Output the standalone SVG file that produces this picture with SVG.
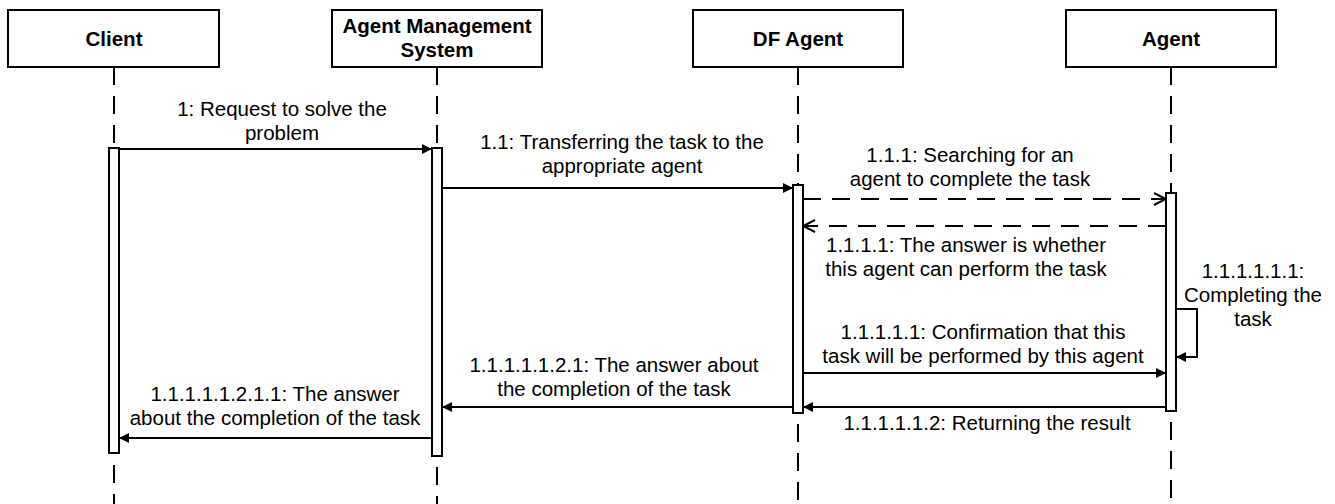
<svg xmlns="http://www.w3.org/2000/svg" width="1335" height="504" viewBox="0 0 1335 504">
  <style>
    .box { fill: #fff; stroke: #000; stroke-width: 2; }
    .title { font-family: "Liberation Sans", Arial, sans-serif; font-size: 20.5px; font-weight: bold; text-anchor: middle; fill: #000; }
    .label { font-family: "Liberation Sans", Arial, sans-serif; font-size: 20.5px; text-anchor: middle; fill: #000; }
    .life { stroke: #000; stroke-width: 2; stroke-dasharray: 18 11; fill: none; }
    .bar { fill: #fff; stroke: #000; stroke-width: 2; }
    .msg { stroke: #000; stroke-width: 2; fill: none; marker-end: url(#solid); }
    .reply { stroke: #000; stroke-width: 2; fill: none; stroke-dasharray: 18 11; marker-end: url(#open); }
  </style>
  <defs>
    <marker id="solid" viewBox="0 0 10 10" refX="10" refY="5" markerWidth="10" markerHeight="10" markerUnits="userSpaceOnUse" orient="auto">
      <path d="M0,0 L10,5 L0,10 Z" fill="#000"/>
    </marker>
    <marker id="open" viewBox="0 0 14 14" refX="13" refY="7" markerWidth="14" markerHeight="14" markerUnits="userSpaceOnUse" orient="auto">
      <path d="M1,1 L13,7 L1,13" fill="none" stroke="#000" stroke-width="2"/>
    </marker>
  </defs>
  <rect width="1335" height="504" fill="#fff"/>

  <!-- Lifelines -->
  <g id="lifelines">
    <line class="life" x1="114" y1="67" x2="114" y2="148"/>
    <line class="life" x1="114" y1="465" x2="114" y2="504"/>
    <line class="life" x1="437" y1="67" x2="437" y2="148"/>
    <line class="life" x1="437" y1="467" x2="437" y2="504"/>
    <line class="life" x1="798" y1="67" x2="798" y2="185"/>
    <line class="life" x1="798" y1="424" x2="798" y2="504"/>
    <line class="life" x1="1171" y1="67" x2="1171" y2="193"/>
    <line class="life" x1="1171" y1="422" x2="1171" y2="504"/>
  </g>

  <!-- Participants -->
  <g id="client">
    <rect class="box" x="8" y="10" width="211" height="57"/>
    <text class="title" x="114" y="46">Client</text>
    <rect class="bar" x="109" y="148" width="10" height="305"/>
  </g>
  <g id="ams">
    <rect class="box" x="332" y="10" width="210" height="57"/>
    <text class="title" x="437" y="33">Agent Management</text>
    <text class="title" x="437" y="57">System</text>
    <rect class="bar" x="432" y="148" width="10" height="308"/>
  </g>
  <g id="df-agent">
    <rect class="box" x="693" y="10" width="210" height="57"/>
    <text class="title" x="798" y="46">DF Agent</text>
    <rect class="bar" x="793" y="185" width="10" height="228"/>
  </g>
  <g id="agent">
    <rect class="box" x="1066" y="10" width="210" height="57"/>
    <text class="title" x="1171" y="46">Agent</text>
    <rect class="bar" x="1166" y="193" width="10" height="218"/>
  </g>

  <!-- Messages -->
  <g id="connectors">
    <line class="msg" x1="119" y1="149" x2="432" y2="149"/>
    <line class="msg" x1="442" y1="188" x2="793" y2="188"/>
    <line class="reply" x1="803" y1="199" x2="1166" y2="199"/>
    <line class="reply" x1="1166" y1="226" x2="803" y2="226"/>
    <path class="msg" d="M1176,309 H1197 V357 H1176"/>
    <line class="msg" x1="803" y1="373" x2="1166" y2="373"/>
    <line class="msg" x1="1166" y1="407" x2="803" y2="407"/>
    <line class="msg" x1="793" y1="407" x2="442" y2="407"/>
    <line class="msg" x1="432" y1="438" x2="119" y2="438"/>
  </g>

  <!-- Message labels -->
  <g id="labels">
    <text class="label" x="282" y="116">1: Request to solve the</text>
    <text class="label" x="282" y="140">problem</text>
    <text class="label" x="622" y="149">1.1: Transferring the task to the</text>
    <text class="label" x="622" y="173">appropriate agent</text>
    <text class="label" x="970" y="162">1.1.1: Searching for an</text>
    <text class="label" x="970" y="186">agent to complete the task</text>
    <text class="label" x="966" y="252">1.1.1.1: The answer is whether</text>
    <text class="label" x="966" y="276">this agent can perform the task</text>
    <text class="label" x="1253" y="278">1.1.1.1.1.1:</text>
    <text class="label" x="1253" y="302">Completing the</text>
    <text class="label" x="1253" y="326">task</text>
    <text class="label" x="983" y="339">1.1.1.1.1: Confirmation that this</text>
    <text class="label" x="983" y="363">task will be performed by this agent</text>
    <text class="label" x="987" y="430">1.1.1.1.1.2: Returning the result</text>
    <text class="label" x="614" y="372">1.1.1.1.1.2.1: The answer about</text>
    <text class="label" x="614" y="396">the completion of the task</text>
    <text class="label" x="275" y="401">1.1.1.1.1.2.1.1: The answer</text>
    <text class="label" x="275" y="425">about the completion of the task</text>
  </g>
</svg>
